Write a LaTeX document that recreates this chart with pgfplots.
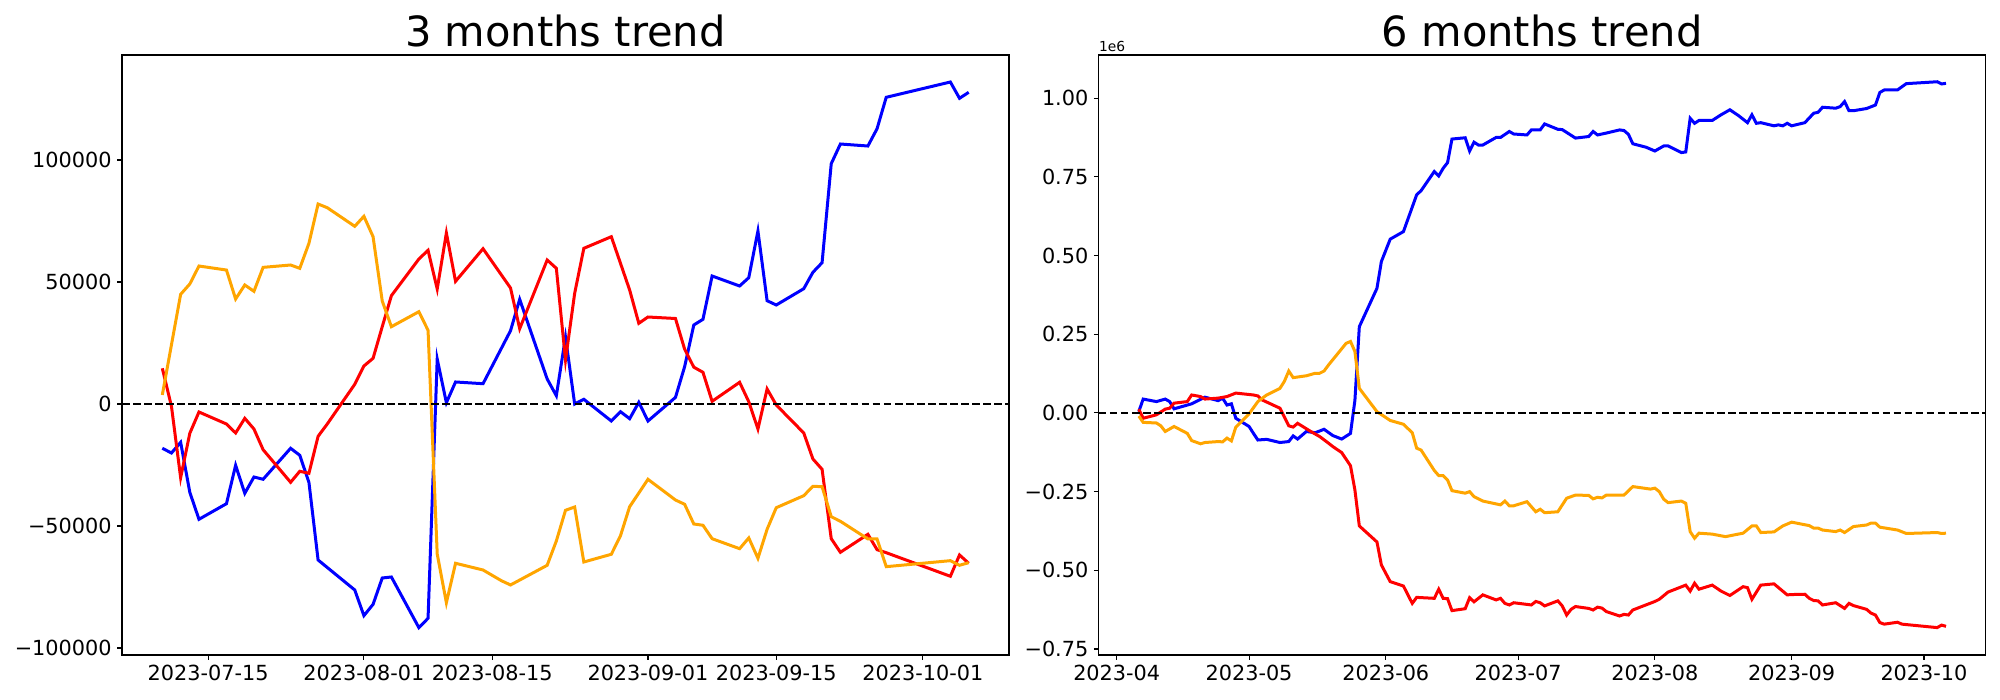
\documentclass[border=0pt]{standalone}
\usepackage{fontspec}
\setmainfont{DejaVu Sans}
\usepackage{pgfplots}
\pgfplotsset{compat=1.18}

\definecolor{mplblue}{RGB}{0,0,255}
\definecolor{mplred}{RGB}{255,0,0}
\definecolor{mplorange}{RGB}{255,165,0}

\pgfplotsset{
  trend/.style={
    scale only axis, width=443.5pt, height=300pt,
    axis line style={line width=0.55pt},
    every tick/.style={black, line width=0.55pt},
    tick align=outside, tick pos=left, major tick length=2.4pt,
    ticklabel style={font=\fontsize{10.4}{12}\selectfont, inner sep=0pt},
    xticklabel style={anchor=north, yshift=-2.6pt},
    yticklabel style={anchor=east, xshift=-2.6pt},
    every axis title/.style={at={(0.5,1)}, anchor=base, yshift=4.2pt,
      font=\fontsize{20.8}{24}\selectfont},
    scaled ticks=false,
  },
  series/.style={line width=1.5pt, mark=none},
  zero/.style={black, line width=1.15pt, dash pattern=on 3.85pt off 1.67pt},
}

\begin{document}
\begin{tikzpicture}
\useasboundingbox (-61pt,-22.5pt) rectangle (939pt,327.5pt);

% left: 3 months, x = days since 2023-07-01
\begin{axis}[trend, at={(0pt,0pt)}, anchor=south west,
  title={3 months trend},
  xmin=4.6, xmax=101.4, ymin=-102869, ymax=143033,
  xtick={14,31,45,62,76,92},
  xticklabels={2023-07-15,2023-08-01,2023-08-15,2023-09-01,2023-09-15,2023-10-01},
  ytick={-100000,-50000,0,50000,100000},
  yticklabels={−100000,−50000,0,50000,100000},
]
\addplot[series, mplblue] coordinates {
(9,-18150)(10,-20080)(11,-15700)(12,-36190)(13,-47250)(16,-40860)(17,-25120)
(18,-36600)(19,-29920)(20,-30860)(23,-18150)(24,-21020)(25,-32090)(26,-63930)
(30,-76220)(31,-86740)(32,-82100)(33,-71310)(34,-70900)(37,-91670)(38,-87820)
(39,18440)(40,530)(41,9020)(44,8320)(47,30040)(48,42900)(51,10250)(52,3400)
(53,27450)(54,0)(55,1930)(58,-6970)(59,-3160)(60,-6020)(61,700)(62,-6970)
(65,2700)(66,15290)(67,32370)(68,34710)(69,52450)(72,48360)(73,51760)(74,70900)
(75,42330)(76,40570)(79,47250)(80,53970)(81,57910)(82,98480)(83,106550)
(86,105730)(87,112820)(88,125690)(95,131960)(96,125280)(97,127740)
};
\addplot[series, mplred] coordinates {
(9,14630)(10,-1000)(11,-30200)(12,-12010)(13,-3280)(16,-8200)(17,-11880)
(18,-5870)(19,-10250)(20,-18730)(23,-32090)(24,-27580)(25,-28400)(26,-13240)
(27,-8200)(30,8070)(31,15570)(32,18730)(33,31680)(34,44380)(37,59420)(38,62990)
(39,47130)(40,70080)(41,50280)(44,63640)(47,47540)(48,30860)(51,59010)(52,55610)
(53,18030)(54,45360)(55,63800)(58,68560)(59,57660)(60,46720)(61,33070)(62,35650)
(65,35040)(66,22480)(67,15100)(68,12990)(69,1100)(72,8890)(73,940)(74,-10250)
(75,6150)(76,-410)(79,-11880)(80,-22540)(81,-26760)(82,-55200)(83,-60770)
(86,-53400)(87,-59710)(88,-60940)(95,-70610)(96,-61880)(97,-65280)
};
\addplot[series, mplorange] coordinates {
(9,3700)(11,44950)(12,49180)(13,56550)(16,54900)(17,43030)(18,48770)(19,46180)
(20,56000)(23,56960)(24,55600)(25,65850)(26,81960)(27,80450)(30,72820)(31,76920)
(32,68560)(33,42210)(34,31680)(37,37830)(38,30200)(39,-61470)(40,-81430)
(41,-65280)(44,-68030)(46,-72410)(47,-74170)(51,-66100)(52,-56140)(53,-43560)
(54,-42210)(55,-64750)(58,-61590)(59,-53970)(60,-42090)(62,-30860)(65,-39340)
(66,-41100)(67,-49180)(68,-49700)(69,-55200)(72,-59300)(73,-54900)(74,-63230)
(75,-51350)(76,-42500)(79,-37580)(80,-33730)(81,-33890)(82,-46180)(83,-48070)
(86,-55320)(87,-55320)(88,-66670)(95,-64210)(96,-66100)(97,-65030)
};
\addplot[zero] coordinates {(4.6,0)(101.4,0)};
\end{axis}

% right: 6 months, x = days since 2023-04-01, y in units of 1e6
\begin{axis}[trend, name=six, at={(488.35pt,0pt)}, anchor=south west,
  title={6 months trend},
  xmin=-4.08, xmax=197, ymin=-0.769, ymax=1.137,
  xtick={0,30,61,91,122,153,183},
  xticklabels={2023-04,2023-05,2023-06,2023-07,2023-08,2023-09,2023-10},
  ytick={-0.75,-0.5,-0.25,0,0.25,0.5,0.75,1},
  yticklabels={−0.75,−0.50,−0.25,0.00,0.25,0.50,0.75,1.00},
]
\addplot[series, mplblue] coordinates {
(5,0.004)(6,0.044)(9,0.036)(11,0.044)(12,0.036)(13,0.013)(17,0.029)(20,0.050)
(23,0.039)(24,0.047)(25,0.025)(26,0.029)(27,-0.017)(30,-0.043)(31,-0.065)
(32,-0.086)(34,-0.084)(37,-0.094)(39,-0.091)(40,-0.073)(41,-0.083)(43,-0.059)
(45,-0.063)(47,-0.052)(49,-0.072)(51,-0.083)(53,-0.065)(54,0.040)(55,0.274)
(59,0.396)(60,0.481)(62,0.552)(65,0.576)(68,0.693)(69,0.706)(72,0.767)(73,0.753)
(74,0.777)(75,0.795)(76,0.870)(79,0.874)(80,0.832)(81,0.860)(82,0.851)(83,0.851)
(86,0.875)(87,0.875)(89,0.894)(90,0.886)(93,0.883)(94,0.899)(96,0.899)(97,0.918)
(100,0.901)(101,0.900)(104,0.873)(107,0.878)(108,0.894)(109,0.883)(111,0.889)
(114,0.899)(115,0.897)(116,0.885)(117,0.855)(120,0.844)(122,0.832)(124,0.848)
(125,0.848)(128,0.827)(129,0.829)(130,0.936)(131,0.920)(132,0.929)(135,0.929)
(137,0.947)(139,0.963)(141,0.944)(143,0.922)(144,0.947)(145,0.920)(146,0.922)
(149,0.912)(150,0.915)(151,0.912)(152,0.920)(153,0.912)(156,0.922)(158,0.952)
(159,0.955)(160,0.971)(163,0.968)(164,0.973)(165,0.989)(166,0.960)(167,0.960)
(170,0.967)(172,0.978)(173,1.018)(174,1.026)(177,1.026)(179,1.046)(186,1.052)
(187,1.045)(188,1.047)
};
\addplot[series, mplred] coordinates {
(5,0.012)(6,-0.017)(9,-0.006)(11,0.012)(12,0.015)(13,0.031)(16,0.036)(17,0.057)
(19,0.052)(20,0.044)(23,0.047)(25,0.052)(27,0.063)(31,0.057)(32,0.054)(33,0.041)
(37,0.015)(39,-0.041)(40,-0.045)(41,-0.033)(44,-0.059)(46,-0.075)(48,-0.096)
(49,-0.107)(51,-0.126)(53,-0.168)(54,-0.245)(55,-0.359)(59,-0.410)(60,-0.483)
(62,-0.536)(65,-0.550)(67,-0.605)(68,-0.586)(72,-0.589)(73,-0.560)(74,-0.589)
(75,-0.590)(76,-0.628)(79,-0.622)(80,-0.587)(81,-0.600)(83,-0.578)(86,-0.594)
(87,-0.589)(88,-0.605)(89,-0.610)(90,-0.603)(94,-0.610)(95,-0.599)(96,-0.603)
(97,-0.613)(100,-0.597)(101,-0.613)(102,-0.642)(103,-0.624)(104,-0.615)
(107,-0.621)(108,-0.626)(109,-0.617)(110,-0.620)(111,-0.631)(114,-0.645)
(115,-0.640)(116,-0.642)(117,-0.626)(122,-0.599)(123,-0.592)(125,-0.569)
(129,-0.547)(130,-0.566)(131,-0.541)(132,-0.560)(135,-0.547)(137,-0.566)
(139,-0.580)(142,-0.552)(143,-0.555)(144,-0.592)(146,-0.547)(149,-0.543)
(152,-0.578)(153,-0.577)(156,-0.576)(157,-0.589)(158,-0.596)(159,-0.597)
(160,-0.610)(163,-0.603)(165,-0.621)(166,-0.605)(167,-0.612)(170,-0.624)
(171,-0.636)(172,-0.642)(173,-0.666)(174,-0.671)(177,-0.665)(178,-0.671)
(186,-0.682)(187,-0.674)(188,-0.678)
};
\addplot[series, mplorange] coordinates {
(5,-0.010)(6,-0.030)(9,-0.032)(10,-0.041)(11,-0.059)(13,-0.043)(16,-0.065)
(17,-0.088)(19,-0.098)(20,-0.094)(23,-0.091)(24,-0.092)(25,-0.080)(26,-0.089)
(27,-0.045)(30,-0.003)(32,0.036)(34,0.057)(37,0.078)(38,0.100)(39,0.133)
(40,0.112)(43,0.118)(45,0.126)(46,0.126)(47,0.133)(48,0.152)(52,0.221)(53,0.227)
(54,0.195)(55,0.078)(59,0.004)(62,-0.024)(65,-0.036)(67,-0.063)(68,-0.112)
(69,-0.118)(72,-0.183)(73,-0.199)(74,-0.199)(75,-0.213)(76,-0.247)(79,-0.255)
(80,-0.250)(81,-0.266)(83,-0.280)(87,-0.292)(88,-0.280)(89,-0.295)(90,-0.295)
(93,-0.282)(95,-0.314)(96,-0.306)(97,-0.317)(100,-0.314)(102,-0.271)(104,-0.261)
(107,-0.262)(108,-0.273)(109,-0.268)(110,-0.270)(111,-0.261)(115,-0.261)
(117,-0.234)(121,-0.242)(122,-0.239)(123,-0.250)(124,-0.274)(125,-0.285)
(128,-0.280)(129,-0.287)(130,-0.377)(131,-0.398)(132,-0.382)(135,-0.385)
(138,-0.393)(142,-0.382)(144,-0.359)(145,-0.359)(146,-0.380)(149,-0.378)
(151,-0.359)(153,-0.347)(157,-0.358)(158,-0.366)(159,-0.366)(160,-0.372)
(163,-0.377)(164,-0.372)(165,-0.380)(167,-0.361)(170,-0.356)(171,-0.350)
(172,-0.350)(173,-0.363)(177,-0.372)(179,-0.383)(186,-0.380)(187,-0.383)
(188,-0.382)
};
\addplot[zero] coordinates {(-4.08,0)(197,0)};
\end{axis}
\node[anchor=base west, inner sep=0pt, font=\fontsize{6.9}{8}\selectfont]
  at ([yshift=1.75pt]six.north west) {1e6};
\end{tikzpicture}
\end{document}
